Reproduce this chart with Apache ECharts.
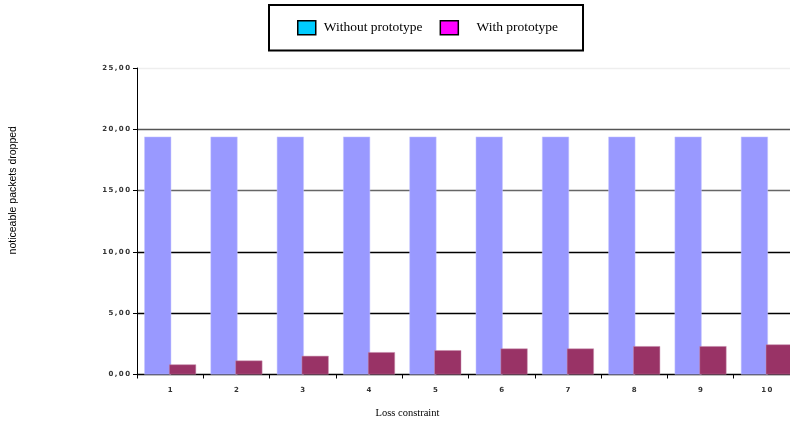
<!DOCTYPE html>
<html>
<head>
<meta charset="utf-8">
<script src="https://cdn.jsdelivr.net/npm/echarts@6/dist/echarts.min.js"></script>
<style>
  html, body { margin: 0; padding: 0; background: #fff; }
  #chart { width: 790px; height: 421px; }
</style>
</head>
<body>
<div id="chart"></div>
<script>
// Packets dropped per loss constraint, with and without the prototype
var categories = ['1', '2', '3', '4', '5', '6', '7', '8', '9', '10'];
var withoutPrototype = [19.4, 19.4, 19.4, 19.4, 19.4, 19.4, 19.4, 19.4, 19.4, 19.4];
var withPrototype = [0.82, 1.14, 1.52, 1.82, 1.98, 2.12, 2.12, 2.31, 2.31, 2.45];
var yTicks = [0, 5, 10, 15, 20, 25];

var chart = echarts.init(document.getElementById('chart'));

// spread characters apart with thin spaces, like the original axis font
function spaced(s) {
  return String(s).split('').join('\u2009');
}

function fmt(v) {
  return spaced(v.toFixed(2).replace('.', ','));
}

chart.setOption({
  animation: false,
  backgroundColor: '#ffffff',
  legend: {
    left: 269,
    top: 5,
    padding: [15, 25, 15, 28],
    borderColor: '#000',
    borderWidth: 2,
    itemWidth: 18,
    itemHeight: 14,
    itemGap: 17,
    textStyle: {
      fontFamily: 'Liberation Serif', fontSize: 13.5, color: '#000',
      padding: [0, 0, 0, 3]
    },
    formatter: function (name) {
      return name === 'With prototype' ? '   ' + name : name;
    },
    data: [
      { name: 'Without prototype', icon: 'rect',
        itemStyle: { color: '#00CCFF', borderColor: '#000', borderWidth: 1.5 } },
      { name: 'With prototype', icon: 'rect',
        itemStyle: { color: '#FF00FF', borderColor: '#000', borderWidth: 1.5 } }
    ]
  },
  grid: {
    left: 137, top: 68, width: 663, height: 306.5,
    containLabel: false, outerBoundsMode: 'none'
  },
  xAxis: {
    type: 'category',
    data: categories,
    name: 'Loss constraint',
    nameLocation: 'middle',
    nameGap: 33,
    nameTextStyle: {
      fontFamily: 'Liberation Serif', fontSize: 10.5, color: '#000',
      padding: [0, 122, 0, 0]
    },
    axisLine: { lineStyle: { color: '#000', width: 1 } },
    axisTick: { show: true, length: 4, lineStyle: { color: '#000' } },
    axisLabel: {
      margin: 12,
      fontFamily: 'DejaVu Sans', fontSize: 7, fontWeight: 'bold', color: '#333',
      formatter: function (v) { return spaced(v); }
    },
    splitLine: { show: false }
  },
  yAxis: {
    type: 'value',
    min: yTicks[0],
    max: yTicks[yTicks.length - 1],
    interval: 5,
    name: 'noticeable packets dropped',
    nameLocation: 'middle',
    nameGap: 118,
    nameTextStyle: {
      fontFamily: 'Liberation Sans', fontSize: 10.5, color: '#000',
      padding: [0, 0, 0, 62]
    },
    axisLine: { show: true, lineStyle: { color: '#000', width: 1 } },
    axisTick: { show: true, length: 4, lineStyle: { color: '#000' } },
    axisLabel: {
      margin: 7,
      fontFamily: 'DejaVu Sans', fontSize: 7, fontWeight: 'bold', color: '#333',
      formatter: function (v) { return fmt(v); }
    },
    splitLine: {
      show: true,
      lineStyle: {
        color: ['#000', '#000', '#000', '#666', '#555', '#eeeeee'],
        width: 1.3
      }
    }
  },
  series: [
    {
      name: 'Without prototype',
      type: 'bar',
      data: withoutPrototype,
      barWidth: 27,
      barGap: '-8%',
      itemStyle: { color: '#9999FF', borderColor: '#c8c8ff', borderWidth: 0.5 }
    },
    {
      name: 'With prototype',
      type: 'bar',
      data: withPrototype,
      barWidth: 27,
      itemStyle: { color: '#993366', borderColor: '#c890b0', borderWidth: 0.5 }
    }
  ]
});
</script>
</body>
</html>
